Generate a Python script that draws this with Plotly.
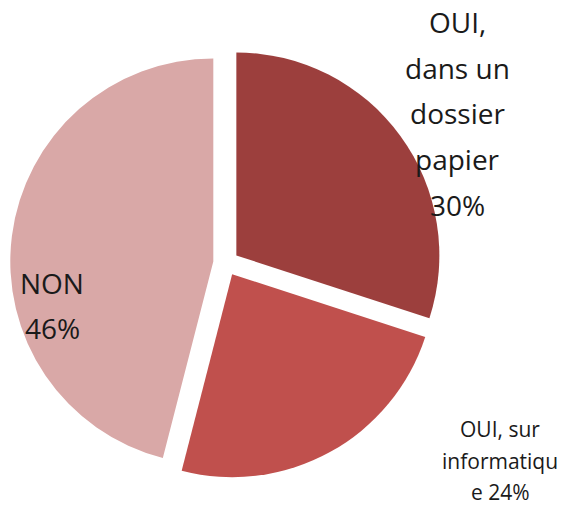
import plotly.graph_objects as go

# Survey answers and their shares (%)
categories = ["OUI, dans un dossier papier", "OUI, sur informatique", "NON"]
values = [30, 24, 46]
colors = ["#9C3F3D", "#C0504D", "#D9A8A7"]

# Wrapped label text for each slice (percentage appended from values)
label_lines = [
    ["OUI,", "dans un", "dossier", "papier"],
    ["OUI, sur", "informatiqu", "e"],
    ["NON"],
]

W, H = 567, 507
pull = 0.063
cx0, cy0, half = 226, 263, 215.8  # pie centre and half-size of its domain, px

fig = go.Figure(
    go.Pie(
        labels=categories,
        values=values,
        sort=False,
        direction="clockwise",
        rotation=0,
        pull=[pull] * len(values),
        marker=dict(colors=colors, line=dict(width=0)),
        textinfo="none",
        hoverinfo="label+percent",
        showlegend=False,
        domain=dict(
            x=[(cx0 - half) / W, (cx0 + half) / W],
            y=[(H - cy0 - half) / H, (H - cy0 + half) / H],
        ),
    )
)

# label layout: (center x px, first baseline y px, line spacing px, font size, percent joins last line)
label_style = [
    (457, 32, 45.7, 28, False),
    (500, 437, 31.5, 21, True),
    (52, 293, 45, 28, False),
]

annotations = []
for lines, val, (cx, by, step, fs, join) in zip(label_lines, values, label_style):
    pct = f"{val}%"
    text_lines = list(lines)
    if join:
        text_lines[-1] = text_lines[-1] + " " + pct
    else:
        text_lines.append(pct)
    for i, t in enumerate(text_lines):
        base = by + i * step
        yc = base - 0.36 * fs
        annotations.append(
            dict(
                text=t,
                x=cx / W,
                y=1 - yc / H,
                xref="paper",
                yref="paper",
                xanchor="center",
                yanchor="middle",
                showarrow=False,
                font=dict(family="Open Sans", size=fs, color="#1a1a1a"),
            )
        )

fig.update_layout(
    width=W,
    height=H,
    margin=dict(l=0, r=0, t=0, b=0),
    paper_bgcolor="white",
    plot_bgcolor="white",
    annotations=annotations,
)

fig.write_html("out.html")
